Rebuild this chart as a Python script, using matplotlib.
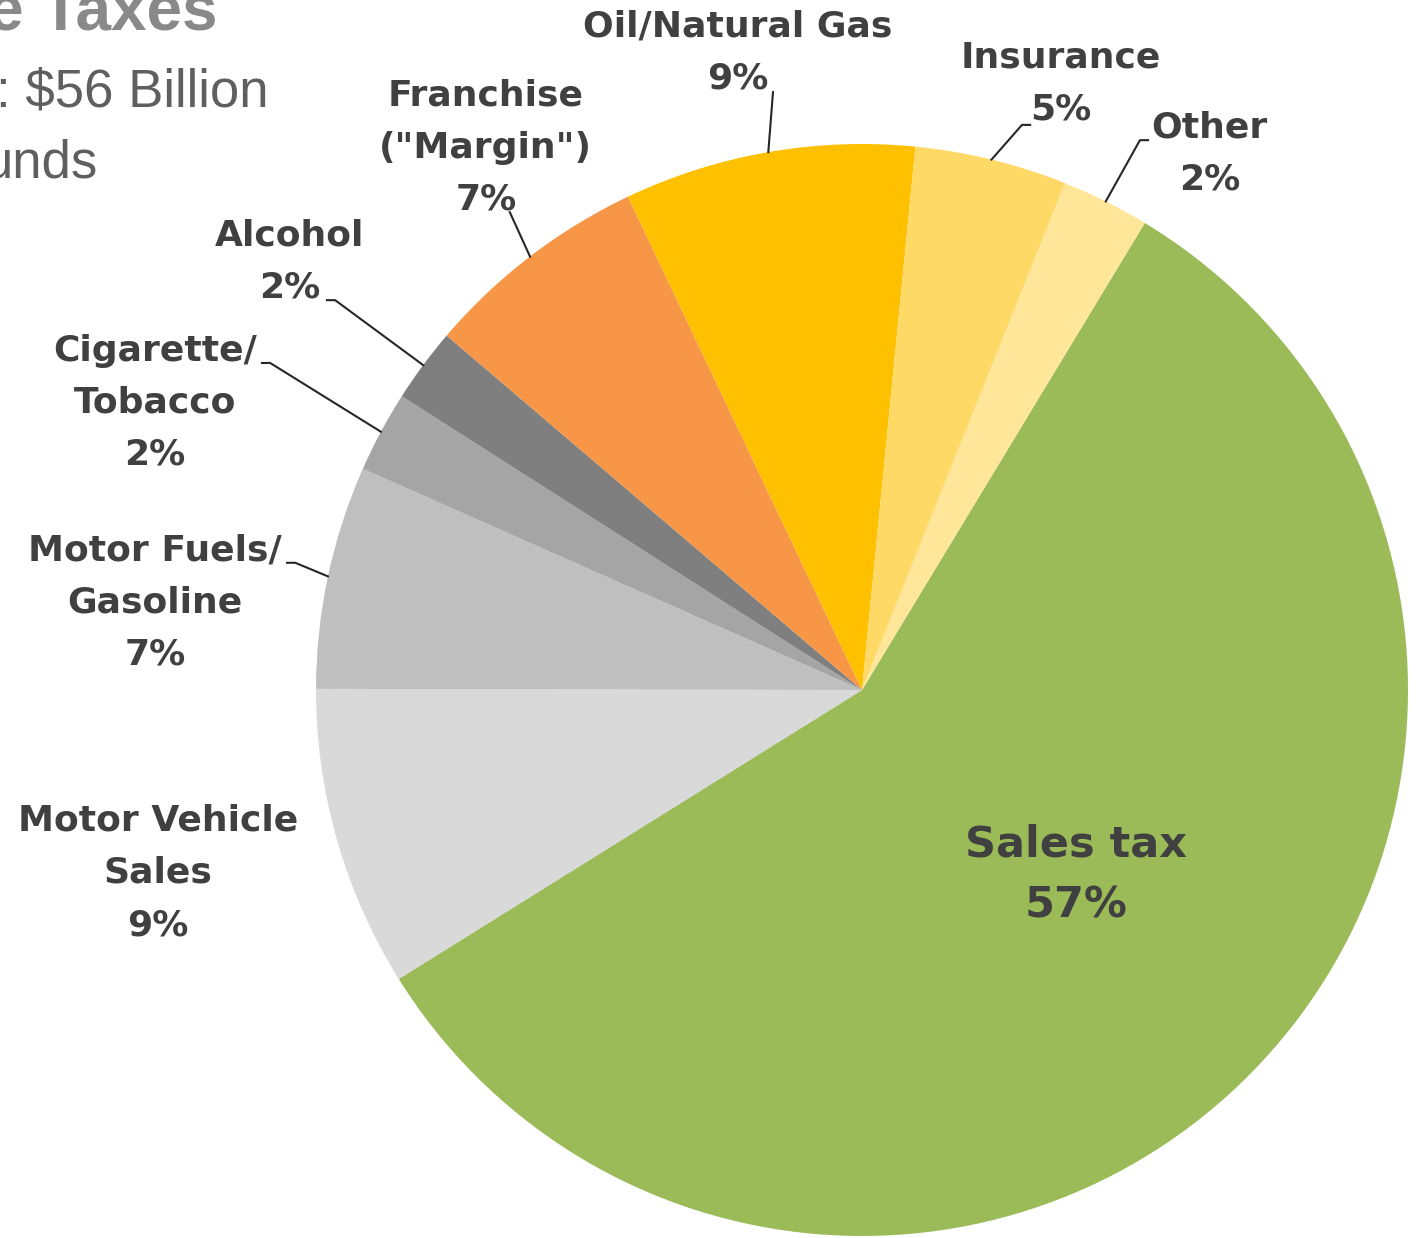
import numpy as np
import matplotlib.pyplot as plt

# revenue shares (percent of total), clockwise from the sales tax slice
categories = ['Sales tax', 'Motor Vehicle\nSales', 'Motor Fuels/\nGasoline',
              'Cigarette/\nTobacco', 'Alcohol', 'Franchise\n("Margin")',
              'Oil/Natural Gas', 'Insurance', 'Other']
shares = [57.4, 8.9, 6.6, 2.4, 2.2, 6.7, 8.6, 4.5, 2.6]
pct_labels = ['57%', '9%', '7%', '2%', '2%', '7%', '9%', '5%', '2%']
colors = ['#9BBB59', '#D9D9D9', '#BFBFBF', '#A5A5A5', '#7F7F7F',
          '#F79646', '#FFC000', '#FFD966', '#FFE699']

# label layout (data units, pie radius = 1)
label_xy = [(0.392, -0.339), (-1.289, -0.335), (-1.295, 0.161), (-1.295, 0.526),
            (-1.048, 0.785), (-0.689, 0.993), (-0.227, 1.168), (0.364, 1.110),
            (0.637, 0.983)]
# leader line: elbow point, end point (None = no leader)
leaders = [None, None,
           ((-1.038, 0.233), (-1.053, 0.233)),
           ((-1.084, 0.599), (-1.099, 0.599)),
           ((-0.965, 0.714), (-0.980, 0.714)),
           ((-0.645, 0.875), None),
           ((-0.163, 1.095), None),
           ((0.293, 1.035), (0.308, 1.035)),
           ((0.509, 1.007), (0.524, 1.007))]

txt_color = '#404040'

fig = plt.figure(figsize=(14.2, 12.38), dpi=100)
ax = fig.add_axes([0, 0, 1, 1])
wedges, _ = ax.pie(shares, colors=colors, startangle=58.8, counterclock=False,
                   radius=1.0, center=(0, 0))
ax.set_xlim(-862 / 546, 558 / 546)
ax.set_ylim(-548 / 546, 690 / 546)
ax.set_aspect('equal', adjustable='box')
ax.axis('off')

for i, w in enumerate(wedges):
    x, y = label_xy[i]
    if i == 0:
        ax.text(x, y, categories[i] + '\n' + pct_labels[i], ha='center', va='center',
                fontsize=31, fontweight='bold', color=txt_color, linespacing=1.57,
                family='DejaVu Sans')
        continue
    ax.text(x, y, categories[i] + '\n' + pct_labels[i], ha='center', va='center',
            fontsize=26, fontweight='bold', color=txt_color, linespacing=1.67,
            family='DejaVu Sans')
    if leaders[i] is not None:
        mid = np.deg2rad((w.theta1 + w.theta2) / 2)
        pts = [(np.cos(mid), np.sin(mid)), leaders[i][0]]
        if leaders[i][1] is not None:
            pts.append(leaders[i][1])
        pts = np.array(pts)
        ax.plot(pts[:, 0], pts[:, 1], color='#262626', lw=1.5)

# partially visible title block at top-left (cut by the left/top edge)
fig.text(218 / 1420, 1 - 30 / 1238, 'e Taxes', fontsize=46, fontweight='bold',
         color='#898989', family='Liberation Sans', ha='right', va='baseline')
fig.text(268 / 1420, 1 - 107 / 1238, ': $56 Billion', fontsize=38,
         color='#5f5f5f', family='Liberation Sans', ha='right', va='baseline')
fig.text(98 / 1420, 1 - 178 / 1238, 'unds', fontsize=38,
         color='#5f5f5f', family='Liberation Sans', ha='right', va='baseline')

fig.savefig('out.png', dpi=100)
